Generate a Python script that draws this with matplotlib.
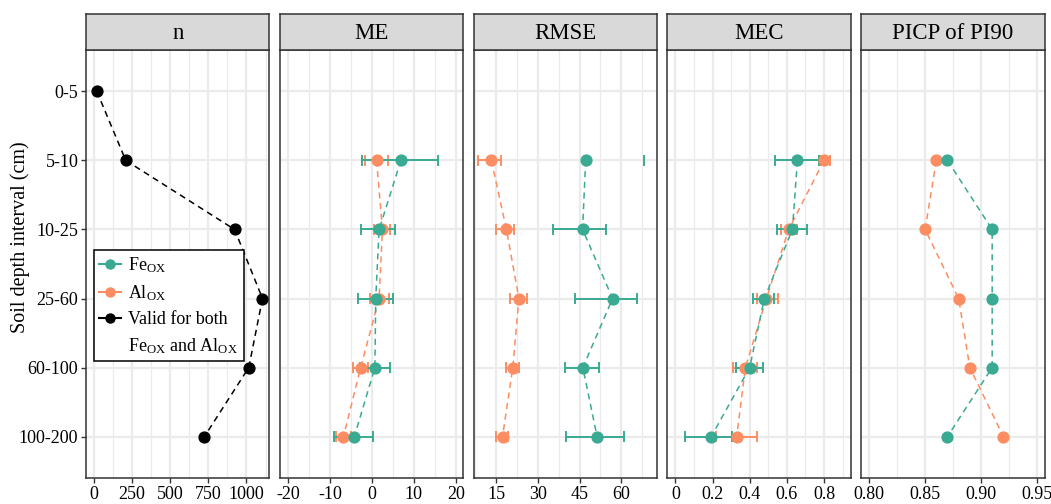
import numpy as np
import matplotlib
matplotlib.use("Agg")
import matplotlib.pyplot as plt
from matplotlib.lines import Line2D

plt.rcParams['font.family'] = ['Liberation Serif', 'DejaVu Serif']
plt.rcParams['mathtext.fontset'] = 'custom'
plt.rcParams['mathtext.rm'] = 'Liberation Serif'
plt.rcParams['mathtext.it'] = 'Liberation Serif:italic'

# ==== data ====
depths = ['0-5', '5-10', '10-25', '25-60', '60-100', '100-200']
n_valid = [18, 208, 922, 1105, 1015, 724]

# metric depths (no 0-5 values)
m_depths = ['5-10', '10-25', '25-60', '60-100', '100-200']

me_fe = [6.9, 1.7, 0.9, 0.7, -4.2]
me_fe_lo = [-2.3, -2.5, -3.3, -2.9, -9.1]
me_fe_hi = [15.8, 5.6, 5.1, 4.2, 0.2]
me_al = [1.1, 2.5, 1.7, -2.7, -6.8]
me_al_lo = [-1.7, 0.4, -0.4, -4.5, -8.7]
me_al_hi = [3.8, 4.4, 4.0, -1.0, -5.0]

rmse_fe = [47.2, 46.1, 56.9, 46.2, 51.3]
rmse_fe_lo = [np.nan, 35.3, 43.3, 39.6, 40.2]
rmse_fe_hi = [68.1, 54.6, 65.7, 52.0, 60.9]
rmse_al = [13.3, 18.7, 23.2, 21.0, 17.3]
rmse_al_lo = [8.5, 15.1, 20.1, 18.4, 15.1]
rmse_al_hi = [16.8, 21.3, 26.2, 23.4, 19.4]

mec_fe = [0.657, 0.63, 0.479, 0.40, 0.193]
mec_fe_lo = [0.538, 0.547, 0.418, 0.329, 0.052]
mec_fe_hi = [0.775, 0.71, 0.53, 0.472, 0.303]
mec_al = [0.80, 0.61, 0.49, 0.377, 0.33]
mec_al_lo = [0.78, 0.57, 0.44, 0.311, 0.22]
mec_al_hi = [0.83, 0.655, 0.55, 0.44, 0.44]

picp_fe = [0.87, 0.91, 0.91, 0.91, 0.87]
picp_al = [0.86, 0.85, 0.88, 0.89, 0.92]

titles = ['n', 'ME', 'RMSE', 'MEC', 'PICP of PI90']

# ==== style ====
c_fe = '#3aaa93'
c_al = '#fc8d62'
border = '#333333'
grid_c = '#ebebeb'
W, H = 1051, 504

fig = plt.figure(figsize=(W / 100, H / 100), dpi=100)

ypos = {d: i for i, d in enumerate(depths)}
left0, pw, gap = 86, 183.5, 10.3
top_strip, top_panel, bottom_panel = 14, 50, 478

xlims = [(-53, 1151), (-22, 21.8), (6.9, 72.9), (-0.043, 0.945), (0.7928, 0.957)]
xmajor = [[0, 250, 500, 750, 1000], [-20, -10, 0, 10, 20], [15, 30, 45, 60],
          [0, 0.2, 0.4, 0.6, 0.8], [0.80, 0.85, 0.90, 0.95]]
xlabels = [['0', '250', '500', '750', '1000'], ['-20', '-10', '0', '10', '20'],
           ['15', '30', '45', '60'], ['0', '0.2', '0.4', '0.6', '0.8'],
           ['0.80', '0.85', '0.90', '0.95']]

axes = []
for k in range(5):
    x0 = left0 + k * (pw + gap)
    ax = fig.add_axes([x0 / W, (H - bottom_panel) / H, pw / W, (bottom_panel - top_panel) / H])
    sx = fig.add_axes([x0 / W, (H - top_panel) / H, pw / W, (top_panel - top_strip) / H])
    sx.set_facecolor('#d9d9d9')
    sx.set_xticks([]); sx.set_yticks([])
    for s in sx.spines.values():
        s.set_color(border); s.set_linewidth(1.1)
    sx.text(0.5, 0.47, titles[k], ha='center', va='center', fontsize=16.5, transform=sx.transAxes)

    lo_lim, hi_lim = xlims[k]
    maj = xmajor[k]
    step = maj[1] - maj[0]
    minors = np.arange(maj[0] - step / 2, hi_lim, step)
    minors = minors[minors > lo_lim]
    ax.set_xticks(maj)
    ax.set_xticklabels(xlabels[k], fontsize=13)
    ax.set_xticks(minors, minor=True)
    ax.set_yticks(range(len(depths)))
    ax.set_xlim(lo_lim, hi_lim)
    ax.set_ylim(5.6, -0.6)
    ax.grid(True, which='major', color=grid_c, lw=1.6, zorder=0)
    ax.grid(True, which='minor', axis='x', color=grid_c, lw=0.9, zorder=0)
    ax.tick_params(axis='x', which='major', length=3.5, width=1, color=border, pad=2)
    ax.tick_params(axis='x', which='minor', length=0)
    if k == 0:
        ax.set_yticklabels(depths, fontsize=13)
        ax.tick_params(axis='y', length=3.5, width=1, color=border, pad=2)
    else:
        ax.tick_params(axis='y', length=0, labelleft=False)
    for s in ax.spines.values():
        s.set_color(border); s.set_linewidth(1.1)
    ax.set_axisbelow(True)
    axes.append(ax)

fig.text(20 / W, (H - 237) / H, 'Soil depth interval (cm)', rotation=90,
         ha='center', va='center', fontsize=14.5)

dash = (4, 3)
lw = 1.1
ms = 7.8

# n panel
yn = [ypos[d] for d in depths]
axes[0].plot(n_valid, yn, color='black', ls='--', dashes=dash, lw=lw, zorder=2)
axes[0].plot(n_valid, yn, 'o', color='black', ms=ms, zorder=3)

ym = np.array([ypos[d] for d in m_depths], dtype=float)
cap = 0.068


def draw_series(ax, x, lo, hi, color):
    ax.plot(x, ym, color=color, ls='--', dashes=dash, lw=lw, zorder=2)
    if lo is not None:
        for xi, l, h, yi in zip(x, lo, hi, ym):
            ax.plot([l, h], [yi, yi], color=color, lw=1.4, zorder=2.5)
            ax.plot([l, l], [yi - cap, yi + cap], color=color, lw=1.4, zorder=2.5)
            ax.plot([h, h], [yi - cap, yi + cap], color=color, lw=1.4, zorder=2.5)
    ax.plot(x, ym, 'o', color=color, ms=ms, zorder=3)


draw_series(axes[1], me_al, me_al_lo, me_al_hi, c_al)
draw_series(axes[1], me_fe, me_fe_lo, me_fe_hi, c_fe)
draw_series(axes[2], rmse_al, rmse_al_lo, rmse_al_hi, c_al)
draw_series(axes[2], rmse_fe, rmse_fe_lo, rmse_fe_hi, c_fe)
draw_series(axes[3], mec_al, mec_al_lo, mec_al_hi, c_al)
draw_series(axes[3], mec_fe, mec_fe_lo, mec_fe_hi, c_fe)
draw_series(axes[4], picp_al, None, None, c_al)
draw_series(axes[4], picp_fe, None, None, c_fe)

# legend
handles = [Line2D([], [], color=c_fe, marker='o', ms=6.5, lw=1.5),
           Line2D([], [], color=c_al, marker='o', ms=6.5, lw=1.5),
           Line2D([], [], color='black', marker='o', ms=6.5, lw=1.5),
           Line2D([], [], color='none')]
labels = [r'Fe$_{\mathrm{OX}}$', r'Al$_{\mathrm{OX}}$', 'Valid for both',
          r'Fe$_{\mathrm{OX}}$ and Al$_{\mathrm{OX}}$']
leg = axes[0].legend(handles, labels, loc='upper left', bbox_to_anchor=(94 / W, (H - 250) / H),
                     bbox_transform=fig.transFigure, fontsize=13, frameon=True, fancybox=False,
                     borderpad=0.3, labelspacing=0.45, handlelength=1.2, handletextpad=0.4,
                     borderaxespad=0)
leg.get_frame().set_edgecolor('black')
leg.get_frame().set_linewidth(1.1)
leg.get_frame().set_alpha(1)

fig.savefig('out.png', dpi=100)
